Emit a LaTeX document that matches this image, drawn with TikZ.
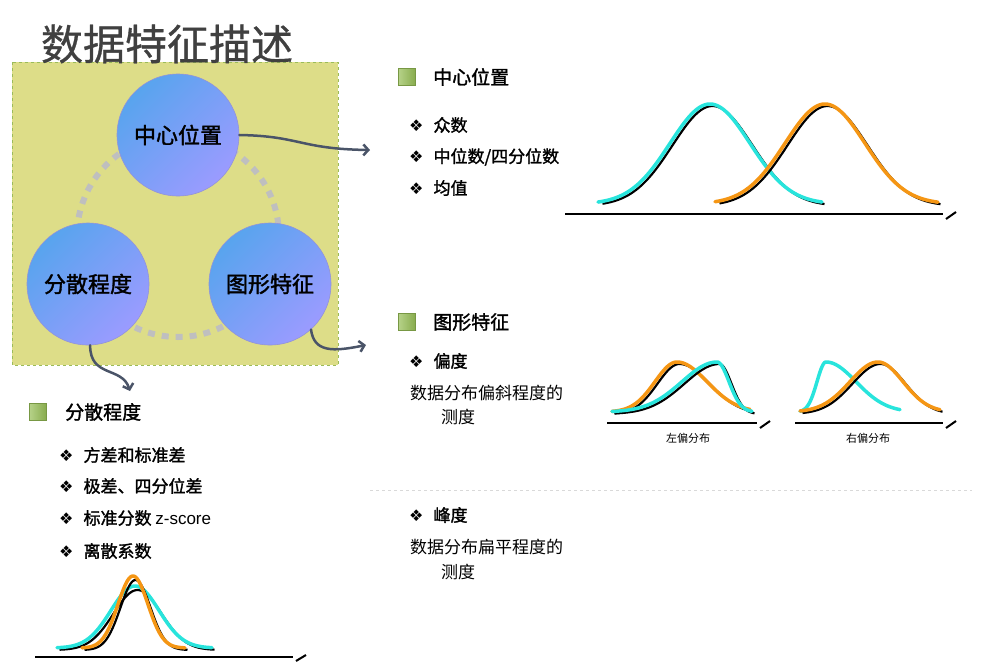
\documentclass[tikz,border=0pt]{standalone}
\usepackage{fontspec}
\newfontfamily\cjk{Noto Sans CJK SC}
\newfontfamily\cjkb[FakeBold=1.6]{Noto Sans CJK SC}
\newfontfamily\cjkt[FakeBold=0.8]{Noto Sans CJK SC}
\newfontfamily\symf{DejaVu Sans}
\newfontfamily\latf{Liberation Sans}
\usetikzlibrary{arrows.meta,shadings}

\definecolor{boxfill}{RGB}{221,221,136}
\definecolor{boxline}{RGB}{155,187,89}
\definecolor{ballA}{RGB}{88,164,238}
\definecolor{ballB}{RGB}{155,155,255}
\definecolor{arrowc}{RGB}{74,84,104}
\definecolor{cyanc}{RGB}{40,228,220}
\definecolor{orangec}{RGB}{245,150,20}
\definecolor{sqgreen}{RGB}{150,190,85}

% split normal curve: style, from, mu, to, sigma left, sigma right, base, height
\newcommand{\bellcurve}[8]{%
  \draw[#1] plot[domain=#2:#3,samples=40,smooth] (\x,{#7-#8*exp(-0.5*((\x-#3)/#5)*((\x-#3)/#5))})
    -- plot[domain=#3:#4,samples=40,smooth] (\x,{#7-#8*exp(-0.5*((\x-#3)/#6)*((\x-#3)/#6))});
}

\tikzset{
  ball/.style={circle, minimum size=122pt, inner sep=0pt, draw=ballB!70!gray, line width=0.6pt,
    top color=ballA, bottom color=ballB, shading angle=45,
    font=\cjkb\fontsize{22}{22}\selectfont},
  conn/.style={draw=arrowc, line width=2.5pt, line cap=round, -{Straight Barb[length=5pt,width=11pt]}},
  headsq/.style={rectangle, minimum size=17pt, inner sep=0pt, left color=sqgreen!70!white,
    right color=sqgreen!90!black, draw=sqgreen!80!black, line width=0.4pt},
  head/.style={anchor=west, inner sep=0pt, font=\cjkb\fontsize{19}{19}\selectfont},
  item/.style={anchor=west, inner sep=0pt, font=\cjkb\fontsize{17}{17}\selectfont},
  plain/.style={anchor=west, inner sep=0pt, font=\cjk\fontsize{17}{17}\selectfont},
  small/.style={inner sep=0pt, font=\cjk\fontsize{11}{11}\selectfont},
  axis/.style={black, line width=2pt},
  shade/.style={black, line width=2.2pt, xshift=2.5pt, yshift=-2pt},
  cy/.style={cyanc, line width=3.5pt, line cap=round},
  og/.style={orangec, line width=3.5pt, line cap=round}
}

\newcommand{\dia}{{\symf\fontsize{16}{16}\selectfont ❖}\hspace{10pt}}

\begin{document}
\begin{tikzpicture}[x=1pt, y=-1pt]
\useasboundingbox (0,0) rectangle (999,665);

% left panel
\draw[boxline, fill=boxfill, dashed, line width=0.8pt] (12,62) rectangle (338,365);
\node[inner sep=0pt, text=black!75, font=\cjkt\fontsize{42}{42}\selectfont] (ttl) at (167,44) {数据特征描述};

\draw[black!25, line width=6pt, dash pattern=on 7pt off 7pt] (178,236) circle[radius=101];

\node[ball] (c1) at (178,135) {中心位置};
\node[ball] (c2) at (88,284) {分散程度};
\node[ball] (c3) at (270,284) {图形特征};

\coordinate (e1) at (370,150);
\coordinate (e2) at (366,345);
\coordinate (e3) at (130,391);
\draw[conn] (c1.east) .. controls (300,136) and (300,149) .. (e1);
\draw[conn] (c3.-48) .. controls (314,352) and (332,352) .. (e2);
\draw[conn] (c2.-88) .. controls (90,378) and (122,366) .. (e3);

% center
\node[headsq] (s1) at (407,77) {};
\node[head] (h1) at (433,77) {中心位置};
\node[item] (m1) at (409,125) {\dia 众数};
\node[item] (m2) at (409,157) {\dia 中位数/四分位数};
\node[item] (m3) at (409,188) {\dia 均值};

\draw[axis] (565,214) -- (943,214);
\draw[axis] (946,219) -- (956,212);
\bellcurve{shade}{600}{710}{822}{40}{40}{204}{100}
\bellcurve{cy}{598}{710}{822}{40}{40}{204}{100}
\bellcurve{shade}{717}{825}{938}{40}{40}{204}{100}
\bellcurve{og}{715}{825}{938}{40}{40}{204}{100}

% shape
\node[headsq] (s2) at (407,322) {};
\node[head] (h2) at (433,322) {图形特征};
\node[item] (k1) at (409,361) {\dia 偏度};
\node[plain] (k2) at (410,393) {数据分布偏斜程度的};
\node[plain] (k3) at (441,417) {测度};

\draw[axis] (607,423) -- (757,423);
\draw[axis] (760,428) -- (770,421);
\bellcurve{shade}{612}{677}{750}{22}{30}{412}{50}
\bellcurve{og}{612}{677}{750}{22}{30}{412}{50}
\bellcurve{shade}{612}{717}{752}{35}{12}{412}{50}
\bellcurve{cy}{612}{717}{752}{35}{12}{412}{50}
\node[small] (lk) at (688,438) {左偏分布};

\draw[axis] (795,423) -- (943,423);
\draw[axis] (946,428) -- (956,421);
\bellcurve{cy}{800}{826}{900}{9}{30}{412}{50}
\bellcurve{shade}{800}{878}{940}{28}{25}{412}{50}
\bellcurve{og}{800}{878}{940}{28}{25}{412}{50}
\node[small] (rk) at (868,438) {右偏分布};

\draw[black!15, dashed, line width=0.8pt] (370,490) -- (972,490);

\node[item] (f1) at (409,515) {\dia 峰度};
\node[plain] (f2) at (410,547) {数据分布扁平程度的};
\node[plain] (f3) at (441,572) {测度};

% dispersion
\node[headsq] (s3) at (38,412) {};
\node[head] (h3) at (65,412) {分散程度};
\node[item] (d1) at (59,455) {\dia 方差和标准差};
\node[item] (d2) at (59,486) {\dia 极差、四分位差};
\node[item] (d3) at (59,518) {\dia 标准分数 {\latf z-score}};
\node[item] (d4) at (59,551) {\dia 离散系数};

\draw[axis] (35,657) -- (293,657);
\draw[axis] (296,661) -- (306,655);
\bellcurve{shade}{57}{135}{212}{24}{24}{648}{60}
\bellcurve{cy}{57}{135}{212}{24}{24}{648}{62}
\bellcurve{shade}{82}{133}{185}{15}{15}{648}{70}
\bellcurve{og}{82}{133}{185}{15}{15}{648}{72}
\end{tikzpicture}
\end{document}
